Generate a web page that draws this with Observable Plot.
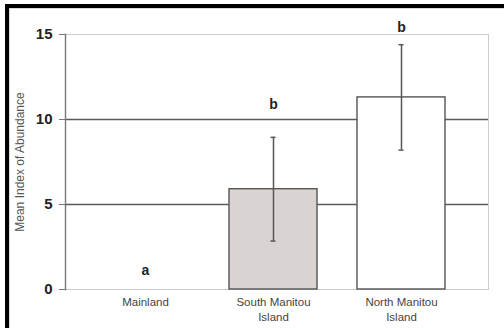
<!DOCTYPE html>
<html>
<head>
<meta charset="utf-8">
<script src="https://cdn.jsdelivr.net/npm/d3@7"></script>
<script src="https://cdn.jsdelivr.net/npm/@observablehq/plot@0.6"></script>
<style>
  html, body { margin: 0; padding: 0; background: #fff; }
  #wrap { position: relative; width: 504px; height: 328px; overflow: hidden; font-family: "Liberation Sans", Arial, sans-serif; }
  #wrap svg { position: absolute; left: 0; top: 0; }
  .bk { position: absolute; background: #000; }
  .lg { position: absolute; background: #d8d8d8; }
</style>
</head>
<body>
<div id="wrap">
  <div class="bk" style="left:5px; top:4px; width:499px; height:4px;"></div>
  <div class="bk" style="left:5px; top:4px; width:4px; height:324px;"></div>
  <div class="lg" style="left:9px; top:8px; width:495px; height:1px;"></div>
  <div class="lg" style="left:9px; top:8px; width:1px; height:320px;"></div>
</div>
<script>
const categories = ["Mainland", "South Manitou Island", "North Manitou Island"];
const tickLabels = ["Mainland", "South Manitou\nIsland", "North Manitou\nIsland"];
const means = [0, 5.9, 11.3];
const errors = [0, 3.05, 3.1];
const letters = ["a", "b", "b"];
const letterY = [1.1, 10.9, 15.4];
const fills = ["#ffffff", "#d9d4d1", "#ffffff"];
const yTicks = [0, 5, 10, 15];
const yLabel = "Mean Index of Abundance";

const data = categories.map((c, i) => ({
  cat: c, mean: means[i], err: errors[i], letter: letters[i], ly: letterY[i], fill: fills[i]
}));
const bars = data.filter(d => d.mean > 0);

const chart = Plot.plot({
  width: 504,
  height: 328,
  marginLeft: 65,
  marginRight: 16,
  marginTop: 34,
  marginBottom: 39,
  style: { fontFamily: "Liberation Sans, Arial, sans-serif", background: "transparent", overflow: "visible" },
  x: { domain: categories, range: [101, 445], paddingInner: 0.3125, paddingOuter: 0 },
  y: { domain: [0, 15] },
  marks: [
    Plot.frame({ stroke: "#cccccc" }),
    Plot.ruleY([5, 10], { stroke: "#5a5a5a", strokeWidth: 1.3 }),
    Plot.frame({ anchor: "left", stroke: "#777777", strokeWidth: 1.4 }),
    Plot.barY(bars, { x: "cat", y: "mean", fill: "fill", stroke: "#555555", strokeWidth: 1.4 }),
    Plot.ruleX(bars, { x: "cat", y1: d => d.mean - d.err, y2: d => d.mean + d.err, stroke: "#555555", strokeWidth: 1.5 }),
    Plot.tickY(bars, { x: "cat", y: d => d.mean + d.err, stroke: "#555555", strokeWidth: 1.5, insetLeft: 41.5, insetRight: 41.5 }),
    Plot.tickY(bars, { x: "cat", y: d => d.mean - d.err, stroke: "#555555", strokeWidth: 1.5, insetLeft: 41.5, insetRight: 41.5 }),
    Plot.text(data, { x: "cat", y: "ly", text: "letter", fontSize: 14, fontWeight: "bold", fill: "#222" }),
    Plot.axisY({ ticks: yTicks, tickSize: 6, tickPadding: 7, fontSize: 15, fontWeight: "bold", fill: "#222", stroke: "#777", label: null }),
    Plot.axisX({ tickSize: 0, tickPadding: 6, fontSize: 11.5, fill: "#444", lineHeight: 1.3,
                 tickFormat: d => tickLabels[categories.indexOf(d)], label: null }),
    Plot.text([yLabel], { frameAnchor: "left", textAnchor: "middle", rotate: -90, dx: -45, text: d => d, fontSize: 12, fill: "#555" })
  ]
});
document.getElementById("wrap").prepend(chart);
</script>
</body>
</html>
